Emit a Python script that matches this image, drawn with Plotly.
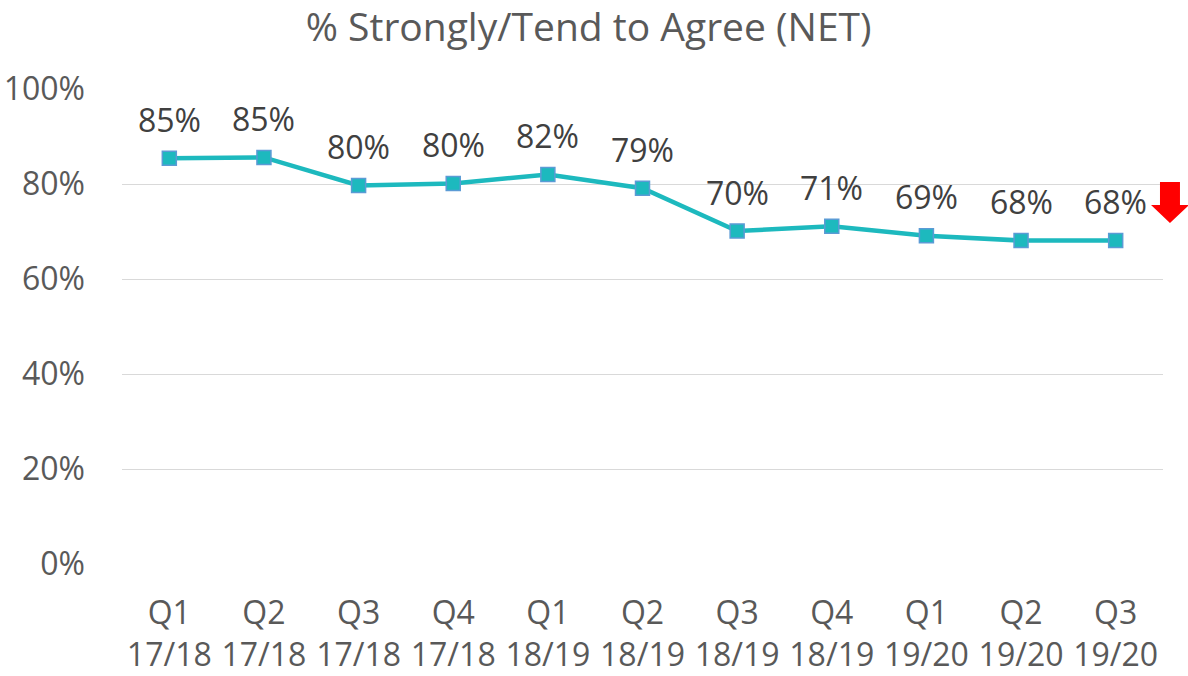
import plotly.graph_objects as go

# data
quarters = ["Q1<br>17/18", "Q2<br>17/18", "Q3<br>17/18", "Q4<br>17/18",
            "Q1<br>18/19", "Q2<br>18/19", "Q3<br>18/19", "Q4<br>18/19",
            "Q1<br>19/20", "Q2<br>19/20", "Q3<br>19/20"]
agree_pct = [85.4, 85.6, 79.7, 80.1, 82.0, 79.1, 70.1, 71.1, 69.1, 68.1, 68.1]
label_txt = ["85%", "85%", "80%", "80%", "82%", "79%", "70%", "71%", "69%", "68%", "68%"]
y_ticks = [0, 20, 40, 60, 80, 100]
y_tick_txt = ["0%", "20%", "40%", "60%", "80%", "100%"]

W, H = 1188, 676
L, R, T, B = 122, 25, 89, 112
pw, ph = W - L - R, H - T - B

fnt = "Open Sans, Noto Sans, sans-serif"

fig = go.Figure()
fig.add_trace(go.Scatter(
    x=quarters, y=agree_pct, mode="lines+markers",
    line=dict(color="#1DB9BE", width=4.5),
    marker=dict(symbol="square", size=14, color="#1DB9BE",
                line=dict(color="#5B9BD5", width=1.5)),
    hoverinfo="skip", showlegend=False,
))

# data labels above each point
for q, v, t in zip(quarters, agree_pct, label_txt):
    fig.add_annotation(x=q, y=v, text=t, showarrow=False, yshift=39,
                       font=dict(family=fnt, size=32, color="#404040"))


# red down arrow to the right of the last point (pixel -> paper)
def px(x):
    return (x - L) / pw


def py(y):
    return (H - B - y) / ph


pts = [(1160, 182), (1180, 182), (1180, 205), (1189, 205), (1170, 223),
       (1151, 205), (1160, 205)]
path = "M " + " L ".join(f"{px(a):.4f},{py(b):.4f}" for a, b in pts) + " Z"
fig.add_shape(type="path", path=path, xref="paper", yref="paper",
              fillcolor="#FF0000", line=dict(width=0))

fig.update_layout(
    width=W, height=H,
    margin=dict(l=L, r=R, t=T, b=B),
    plot_bgcolor="white", paper_bgcolor="white",
    title=dict(text="% Strongly/Tend to Agree (NET)", x=0.4955, xanchor="center",
               y=0.960, yanchor="middle",
               font=dict(family=fnt, size=39, color="#595959")),
    font=dict(family=fnt, color="#595959"),
)
fig.update_xaxes(
    showgrid=False, showline=False, ticks="", automargin=False,
    tickfont=dict(family=fnt, size=32, color="#595959"),
    range=[-0.5, 10.5], ticklabelstandoff=27,
)
fig.update_yaxes(
    range=[0, 100], tickvals=y_ticks, ticktext=y_tick_txt, automargin=False,
    showgrid=True, gridcolor="#D9D9D9", gridwidth=1,
    zeroline=False, showline=False, ticks="",
    tickfont=dict(family=fnt, size=32, color="#595959"),
    ticklabelstandoff=36,
)

# page body has a default 8px margin; drop it so the figure sits at 0,0
fig.write_html("out.html", config={"displayModeBar": False},
               post_script="document.body.style.margin='0px';")
